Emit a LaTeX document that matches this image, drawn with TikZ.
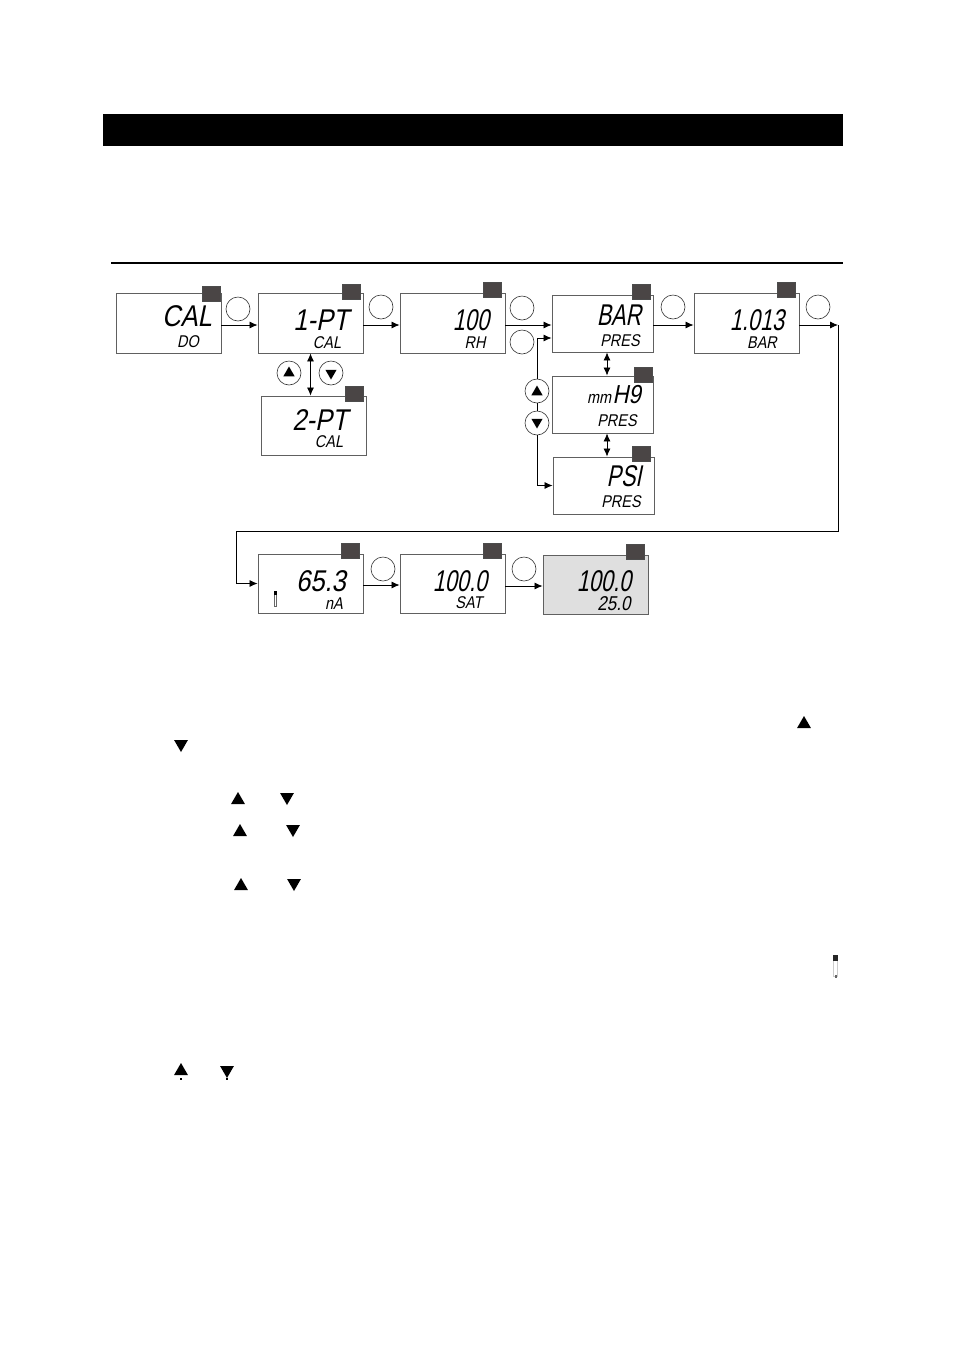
\documentclass[tikz,border=0pt]{standalone}
\usepackage{fontspec}
\usetikzlibrary{shapes.geometric,arrows.meta}
\newfontfamily\lcdfont[FakeSlant=0.2,FakeStretch=0.85]{Liberation Sans}
\newfontfamily\lcdslimfont[FakeSlant=0.2,FakeStretch=0.72]{Liberation Sans}
\definecolor{tagcol}{HTML}{4A4545}
\definecolor{edgecol}{HTML}{606060}
\definecolor{lcdgrey}{HTML}{DFDFDF}
\tikzset{
	lcdbox/.style={draw=edgecol, line width=0.9pt, fill=white, minimum width=105pt, minimum height=60pt, inner sep=0pt},
	tagbox/.style={fill=tagcol, draw=black!70, line width=0.3pt, minimum width=18pt, minimum height=15pt, inner sep=0pt},
	keyring/.style={draw=black!80, line width=0.6pt, fill=white, circle, minimum size=24pt, inner sep=0pt},
	lcdbig/.style={font=\lcdfont\fontsize{30}{30}\selectfont, inner sep=0pt},
	lcdslim/.style={font=\lcdslimfont\fontsize{30}{30}\selectfont, inner sep=0pt},
	lcdsmall/.style={font=\lcdfont\fontsize{17}{17}\selectfont, inner sep=0pt},
	uptri/.style={regular polygon, regular polygon sides=3, fill=black, minimum size=16pt, inner sep=0pt},
	dntri/.style={uptri, shape border rotate=180},
	flow/.style={draw=black, line width=0.8pt, -{Latex[length=8pt,width=7pt]}},
	both/.style={draw=black, line width=0.8pt, {Latex[length=8pt,width=7pt]}-{Latex[length=8pt,width=7pt]}},
}
\begin{document}
\begin{tikzpicture}[x=1pt,y=-1pt]
	\useasboundingbox (0,0) rectangle (954,1350);
	\fill[black] (103,114) rectangle (843,146);
	\draw[line width=1.3pt] (111,263) -- (843,263);

	\node[lcdbox] (cal) at (168.5,323) {};
	\node[lcdbox] (onept) at (310.5,323) {};
	\node[lcdbox] (rh) at (452.5,323) {};
	\node[lcdbox, minimum width=101pt, minimum height=57pt] (bar) at (602.5,323.5) {};
	\node[lcdbox] (barval) at (746.5,323) {};
	\node[lcdbox, minimum height=59pt] (twopt) at (313.5,425.5) {};
	\node[lcdbox, minimum width=101pt, minimum height=57pt] (mmhg) at (602.5,404.5) {};
	\node[lcdbox, minimum width=101pt, minimum height=57pt] (psi) at (603.5,485.5) {};
	\node[lcdbox, minimum height=59pt] (probe) at (310.5,583.5) {};
	\node[lcdbox, minimum height=59pt] (sat) at (452.5,583.5) {};
	\node[lcdbox, minimum height=59pt, fill=lcdgrey] (done) at (595.5,584.5) {};

	\node[tagbox] (tagcal) at (211,293.5) {};
	\node[tagbox] (tagonept) at (351.5,291.5) {};
	\node[tagbox] (tagrh) at (492,290) {};
	\node[tagbox] (tagbar) at (641,291.5) {};
	\node[tagbox] (tagbarval) at (786,290) {};
	\node[tagbox] (tagtwopt) at (354.5,394) {};
	\node[tagbox] (tagmmhg) at (643.5,374.5) {};
	\node[tagbox] (tagpsi) at (641,453.5) {};
	\node[tagbox] (tagprobe) at (350.5,550.5) {};
	\node[tagbox] (tagsat) at (492,551) {};
	\node[tagbox] (tagdone) at (635,551.5) {};

	\node[keyring] (keya) at (238,309) {};
	\node[keyring] (keyb) at (381,307) {};
	\node[keyring] (keyc) at (522,308) {};
	\node[keyring] (keyd) at (522,342) {};
	\node[keyring] (keye) at (673,307) {};
	\node[keyring] (keyf) at (818,307) {};
	\node[keyring] (keyg) at (383,569) {};
	\node[keyring] (keyh) at (524,569) {};
	\node[keyring] (keyup) at (289,373) {};
	\node[keyring] (keydn) at (331,373) {};
	\node[keyring] (presup) at (537,391) {};
	\node[keyring] (presdn) at (537,423) {};
	\node[uptri, minimum size=13pt] (triup) at (289,373) {};
	\node[dntri, minimum size=13pt] (tridn) at (331,373) {};
	\node[uptri, minimum size=13pt] (trip) at (537,392) {};
	\node[dntri, minimum size=13pt] (triq) at (537,422) {};

	\node[lcdbig] (txtcal) at (187,316) {CAL};
	\node[lcdsmall] (txtdo) at (188,342) {DO};
	\node[lcdbig] (txtonept) at (321,320) {1-PT};
	\node[lcdsmall] (txtonecal) at (327,343) {CAL};
	\node[lcdslim] (txtrh) at (471,320) {100};
	\node[lcdsmall] (txtrhb) at (475,343) {RH};
	\node[lcdbig] (txttwopt) at (320,420) {2-PT};
	\node[lcdsmall] (txttwocal) at (329,442) {CAL};
	\node[lcdslim] (txtbar) at (619,315) {BAR};
	\node[lcdsmall] (txtpres) at (620,341) {PRES};
	\node[lcdslim] (txtbarval) at (757,320) {1.013};
	\node[lcdsmall] (txtbarb) at (762,343) {BAR};
	\node[lcdbig, font=\lcdfont\fontsize{26}{26}\selectfont] (txtmmhg) at (614,395) {{\fontsize{17}{17}\selectfont mm}\kern1.5pt H9};
	\node[lcdsmall] (txtmmpres) at (617,421) {PRES};
	\node[lcdslim] (txtpsi) at (624,476) {PSI};
	\node[lcdsmall] (txtpsipres) at (621,502) {PRES};
	\node[lcdbig] (txtprobe) at (321,581) {65.3};
	\node[lcdsmall] (txtna) at (334,604) {nA};
	\node[lcdslim] (txtsat) at (460,581) {100.0};
	\node[lcdsmall] (txtsatb) at (469,603) {SAT};
	\node[lcdslim] (txtdone) at (604,581) {100.0};
	\node[lcdsmall, font=\lcdfont\fontsize{20}{20}\selectfont] (txttemp) at (614,604) {25.0};

	\draw[flow] ([yshift=-2pt]cal.east) -- ([yshift=-2pt]onept.west);
	\draw[flow] ([yshift=-2pt]onept.east) -- ([yshift=-2pt]rh.west);
	\draw[flow] ([yshift=-2pt]rh.east) -- ([yshift=-1.5pt]bar.west);
	\draw[flow] ([yshift=-1.5pt]bar.east) -- ([yshift=-2pt]barval.west);
	\coordinate (turna) at (838,531);
	\coordinate (turnb) at (236,531);
	\draw[flow] ([yshift=-2pt]barval.east) -- (turna |- 0,325);
	\draw[line width=0.8pt] (turna |- 0,325) -- (turna) -- (turnb) -- (turnb |- probe.west);
	\draw[flow] (turnb |- probe.west) -- (probe.west);
	\draw[flow] ([yshift=-1.5pt]probe.east) -- ([yshift=-1.5pt]sat.west);
	\draw[flow] ([yshift=-2.5pt]sat.east) -- ([yshift=-1.5pt]done.west);
	\draw[both] (onept.south) -- (twopt.north -| onept.south);
	\draw[both] (bar.south -| 607,0) -- (mmhg.north -| 607,0);
	\draw[both] (mmhg.south -| 607,0) -- (psi.north -| 607,0);
	\draw[flow] (presup.north) |- ([yshift=-14.5pt]bar.west);
	\draw[line width=0.8pt] (presup) -- (presdn);
	\draw[flow] (presdn.south) |- (psi.west);

	\fill[black] (274,591) rectangle (277,595);
	\draw[black!60, line width=0.5pt] (274.5,595) -- (274.5,606) -- (276.5,606) -- (276.5,595);

	\node[uptri] (arrowa) at (804,724) {};
	\node[dntri] (arrowb) at (181,744) {};
	\node[uptri] (arrowc) at (238,800) {};
	\node[dntri] (arrowd) at (287,797) {};
	\node[uptri] (arrowe) at (240,832) {};
	\node[dntri] (arrowf) at (293,829) {};
	\node[uptri] (arrowg) at (241,886) {};
	\node[dntri] (arrowh) at (294,883) {};
	\node[uptri] (arrowi) at (181,1071) {};
	\node[dntri] (arrowj) at (227,1070) {};
	\fill[black] (180.2,1078) rectangle (181.8,1080);
	\fill[black] (226.2,1078) rectangle (227.8,1080);

	\fill[black!85] (833,955) rectangle (838,961);
	\draw[black!20, line width=0.6pt] (833.5,961) -- (833.5,976) -- (837.5,976) -- (837.5,961);
	\fill[black!60] (834.5,975) rectangle (836.5,978);
\end{tikzpicture}
\end{document}
